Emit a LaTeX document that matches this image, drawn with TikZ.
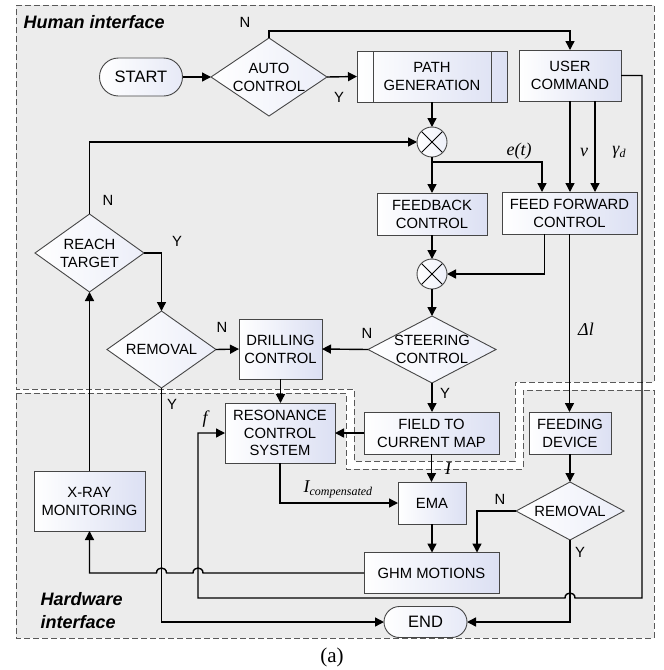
\documentclass[tikz,border=0pt]{standalone}
\usepackage{fontspec}
\setmainfont{Liberation Sans}
\newfontfamily\lserif{Liberation Serif}
\usetikzlibrary{arrows.meta,shapes.geometric,calc}
\definecolor{regfill}{RGB}{236,236,236}
\definecolor{boxend}{RGB}{220,224,243}
\definecolor{bord}{RGB}{70,70,70}
\begin{document}
\begin{tikzpicture}[x=1pt,y=-1pt,
  font=\fontsize{14.8}{18}\selectfont,
  box/.style={rectangle, draw=bord, line width=0.9pt, left color=white, right color=boxend, align=center, inner sep=0pt, outer sep=0pt},
  ppbox/.style={box, path picture={
     \draw[bord, line width=0.9pt] ([xshift=16pt]path picture bounding box.north west) -- ([xshift=16pt]path picture bounding box.south west);
     \draw[bord, line width=0.9pt] ([xshift=-16pt]path picture bounding box.north east) -- ([xshift=-16pt]path picture bounding box.south east);}},
  dia/.style={diamond, draw=bord, line width=0.9pt, left color=white, right color=boxend!55, inner sep=0pt, outer sep=0pt},
  term/.style={rectangle, draw=bord, line width=0.9pt, left color=white, right color=boxend!70, inner sep=0pt, outer sep=0pt},
  sumc/.style={circle, draw=bord, line width=0.9pt, left color=white, right color=boxend!50, minimum size=30pt, inner sep=0pt, outer sep=0pt,
     path picture={
     \draw[black, line width=1pt] ([shift={(45:15pt)}]path picture bounding box.center) -- ([shift={(225:15pt)}]path picture bounding box.center);
     \draw[black, line width=1pt] ([shift={(135:15pt)}]path picture bounding box.center) -- ([shift={(315:15pt)}]path picture bounding box.center);}},
  conn/.style={line width=1.4pt, draw=black},
  arr/.style={conn, -{Triangle[length=9pt,width=9pt]}},
  yn/.style={font=\fontsize{14.8}{18}\selectfont},
  mlab/.style={font=\lserif\itshape\fontsize{18}{18}\selectfont},
  region/.style={draw=black!65, line width=1pt, dash pattern=on 6pt off 3pt, fill=regfill},
  reglab/.style={font=\bfseries\itshape\fontsize{18}{23}\selectfont, align=left, anchor=west},
]
\useasboundingbox (0,0) rectangle (664,670);
% regions
\draw[region] (16,5) -- (654,5) -- (654,382) -- (515,382) -- (515,461) -- (354,461) -- (354,389) -- (16,389) -- cycle;
\draw[region] (16,393) -- (346,393) -- (346,469) -- (523,469) -- (523,390) -- (654,390) -- (654,638) -- (16,638) -- cycle;
\node[reglab] (hl) at (20,22) {Human interface};
\node[reglab] (hwl) at (37,611) {Hardware\\interface};
\node[font=\lserif\fontsize{21}{22}\selectfont] (cap) at (332,657) {(a)};

% nodes
\node[term, minimum width=83pt, minimum height=38pt, rounded corners=19pt, font=\fontsize{16.5}{18}\selectfont] (start) at (141,77) {START};
\node[dia, minimum width=116pt, minimum height=78pt, label={[align=center]center:{AUTO\\CONTROL}}] (auto) at (269,77) {};
\node[ppbox, minimum width=150pt, minimum height=51pt] (pathg) at (432,76.5) {PATH\\GENERATION};
\node[box, minimum width=102pt, minimum height=51pt] (user) at (570,75.5) {USER\\COMMAND};
\node[sumc] (s1) at (432,142) {};
\node[box, minimum width=110pt, minimum height=42pt] (fb) at (432,214) {FEEDBACK\\CONTROL};
\node[box, minimum width=135pt, minimum height=42pt] (ff) at (569.5,213) {FEED FORWARD\\CONTROL};
\node[sumc] (s2) at (432,274) {};
\node[dia, minimum width=128pt, minimum height=67pt, label={[align=center]center:{STEERING\\CONTROL}}] (steer) at (432,349.5) {};
\node[box, minimum width=83pt, minimum height=60pt] (drill) at (280.5,349) {DRILLING\\CONTROL};
\node[dia, minimum width=109pt, minimum height=77pt, label={center:REMOVAL}] (rem1) at (161.5,349.5) {};
\node[dia, minimum width=109pt, minimum height=78pt, label={[align=center]center:{REACH\\TARGET}}] (reach) at (89.5,253) {};
\node[box, minimum width=110pt, minimum height=60pt, font=\fontsize{14.8}{17.5}\selectfont] (res) at (280,433) {RESONANCE\\CONTROL\\SYSTEM};
\node[box, minimum width=135pt, minimum height=42pt] (field) at (431.5,433) {FIELD TO\\CURRENT MAP};
\node[box, minimum width=82pt, minimum height=42pt] (feed) at (570,433) {FEEDING\\DEVICE};
\node[box, minimum width=68pt, minimum height=42pt] (ema) at (432,503) {EMA};
\node[dia, minimum width=108pt, minimum height=58pt, label={center:REMOVAL}] (rem2) at (570,511) {};
\node[box, minimum width=111pt, minimum height=60pt] (xray) at (89.5,501) {X-RAY\\MONITORING};
\node[box, minimum width=135pt, minimum height=41pt] (ghm) at (431.5,573) {GHM MOTIONS};
\node[term, minimum width=83pt, minimum height=31pt, rounded corners=15.5pt, font=\fontsize{16.5}{18}\selectfont] (end) at (425.5,622) {END};

% connectors
\draw[arr] (start.east) -- (auto.west);
\draw[arr] (auto.north) -- ++(0,-7) -| (user.north);
\draw[arr] (auto.east) -- (pathg.west);
\draw[arr] (pathg.south) -- (s1.north);
\draw[arr] (reach.north) |- (s1.west);
\draw[arr] (s1.south) -- (fb.north);
\coordinate (br) at ($(s1.south)+(0,5)$);
\coordinate (ffin) at ([xshift=-27.5pt]ff.north);
\draw[arr] (br) -| (ffin);
\draw[arr] (user.south) -- (user.south |- ff.north);
\coordinate (u2) at ([xshift=25pt]user.south);
\draw[arr] (u2) -- (u2 |- ff.north);
\draw[arr] (fb.south) -- (s2.north);
\coordinate (ffa) at ([xshift=-25pt]ff.south);
\draw[arr] (ffa) |- (s2.east);
\draw[arr] (s2.south) -- (steer.north);
\draw[arr] (ff.south) -- (ff.south |- feed.north);
\draw[arr] (steer.west) -- (drill.east);
\draw[arr] (steer.south) -- (steer.south |- field.north);
\draw[arr] (field.west) -- (res.east);
\draw[arr] (field.south) -- (field.south |- ema.north);
\draw[arr] (drill.south) -- (drill.south |- res.north);
\draw[arr] (res.south) |- (ema.west);
\draw[arr] (ema.south) -- (ema.south |- ghm.north);
\draw[arr] (feed.south) -- (rem2.north);
\coordinate (gin) at ([xshift=45.5pt]ghm.north);
\draw[arr] (rem2.west) -| (gin);
\draw[arr] (rem2.south) |- (end.east);
\draw[arr] (reach.east) -| (rem1.north);
\draw[arr] (rem1.east) -- (drill.west);
\draw[arr] (rem1.south) |- (end.west);
\draw[arr] (xray.north) -- (reach.south);
\coordinate (rc) at (642,598);
\draw[arr] (user.east) -| (rc) -- (575,598) .. controls (575,591.3) and (565,591.3) .. (565,598) -- (198,598) |- (res.west);
\draw[arr] (ghm.west) -- (203,573) .. controls (203,566.3) and (193,566.3) .. (193,573) -- (166.5,573) .. controls (166.5,566.3) and (156.5,566.3) .. (156.5,573) -| (xray.south);

% labels
\node[yn] (lN1) at (245,22) {N};
\node[yn] (lY1) at (339,97) {Y};
\node[yn] (lN2) at (108,200) {N};
\node[yn] (lY2) at (177,241) {Y};
\node[yn] (lN3) at (222,327) {N};
\node[yn] (lY3) at (172,404) {Y};
\node[yn] (lN4) at (367,333) {N};
\node[yn] (lY4) at (445,393) {Y};
\node[yn] (lN5) at (500,499) {N};
\node[yn] (lY5) at (580,552) {Y};
\node[mlab] (let) at (519,151) {e(t)};
\node[mlab] (lv) at (584,152) {v};
\node[mlab] (lg) at (619,152) {γ\raisebox{-3pt}{\fontsize{12}{12}\selectfont d}};
\node[mlab] (ldl) at (586,329) {Δl};
\node[mlab] (lf) at (205,419) {f};
\node[mlab] (lI) at (448,469) {I};
\node[mlab, anchor=west] (lIc) at (300,489) {I\raisebox{-3pt}{\fontsize{12}{12}\selectfont compensated}};
\end{tikzpicture}
\end{document}
